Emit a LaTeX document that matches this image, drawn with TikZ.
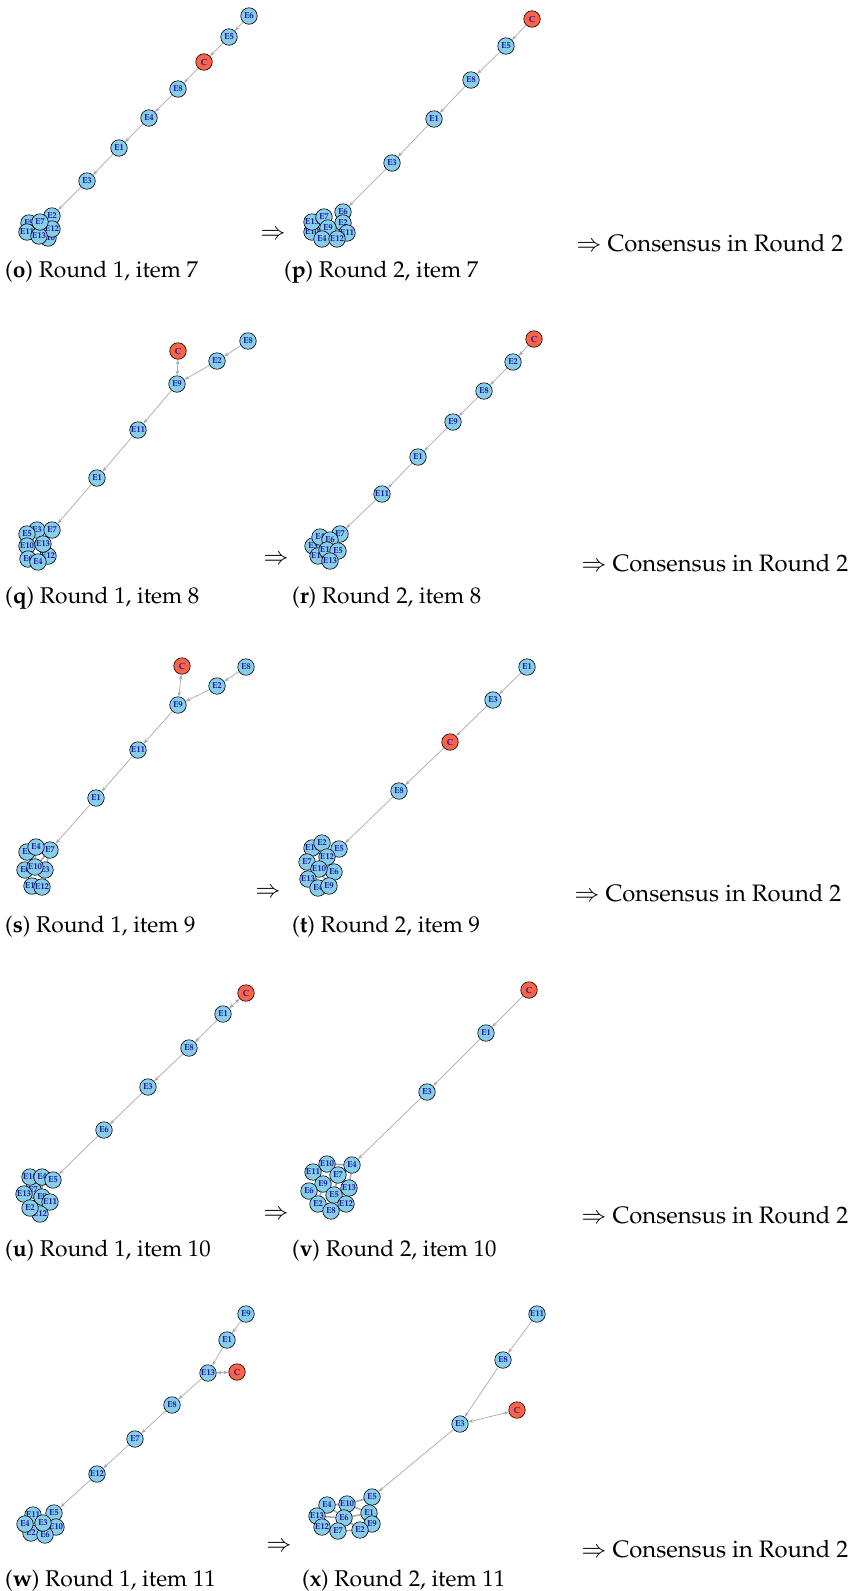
\documentclass[tikz,border=0pt]{standalone}
\usepackage[T1]{fontenc}
\usepackage{mathpazo}
\usepackage{xcolor}
\usepackage{tikz}
\usetikzlibrary{arrows.meta,backgrounds}
\definecolor{entblue}{HTML}{87CEEB}
\definecolor{ctrred}{HTML}{FF6347}
\definecolor{lblblue}{HTML}{1A1AA0}
\definecolor{edgegray}{HTML}{A9A9A9}
\tikzstyle{ent} = [circle, draw=black, line width=0.6pt, fill=entblue, minimum size=16.5pt, inner sep=0pt, text=lblblue, font=\fontsize{8.8}{9}\selectfont\bfseries]
\tikzstyle{ctr} = [ent, fill=ctrred]
\tikzstyle{link} = [draw=edgegray, line width=0.7pt, -{Stealth[length=5pt,width=3.6pt]}]
\tikzstyle{mutual} = [draw=edgegray, line width=0.7pt, {Stealth[length=5pt,width=3.6pt]}-{Stealth[length=5pt,width=3.6pt]}]
\tikzstyle{tie} = [draw=edgegray, line width=1.6pt]
\tikzstyle{capt} = [anchor=west, inner sep=0pt, font=\fontsize{22.8}{27}\selectfont]
\tikzstyle{note} = [inner sep=0pt, font=\fontsize{23.8}{28}\selectfont]

\begin{document}
\begin{tikzpicture}[x=1pt,y=-1pt]
	\useasboundingbox (0,0) rectangle (849,1591);
	% o
	\node[ent] (oE6) at (249,16) {E6};
	\node[ent] (oE5) at (229,37) {E5};
	\node[ctr] (oC) at (204,62) {C};
	\node[ent] (oE8) at (178,89) {E8};
	\node[ent] (oE4) at (149,118) {E4};
	\node[ent] (oE1) at (119,148) {E1};
	\node[ent] (oE3) at (87,181) {E3};
	\node[ent] (oE9) at (29,223) {E9};
	\node[ent] (oE11) at (27,232) {E11};
	\node[ent] (oE10) at (48,238) {E10};
	\node[ent] (oE2) at (52,216) {E2};
	\node[ent] (oE12) at (52,229) {E12};
	\node[ent] (oE13) at (39,236) {E13};
	\node[ent] (oE7) at (40,222) {E7};
	\draw[link] (oE6) -- (oE5);
	\draw[link] (oE5) -- (oC);
	\draw[link] (oC) -- (oE8);
	\draw[link] (oE8) -- (oE4);
	\draw[link] (oE4) -- (oE1);
	\draw[link] (oE1) -- (oE3);
	\draw[link] (oE3) -- (oE2);
	% p
	\node[ctr] (pC) at (532,19) {C};
	\node[ent] (pE5) at (506,46) {E5};
	\node[ent] (pE8) at (471,80) {E8};
	\node[ent] (pE1) at (434,119) {E1};
	\node[ent] (pE3) at (392,163) {E3};
	\node[ent] (pE10) at (312,232) {E10};
	\node[ent] (pE13) at (312,222) {E13};
	\node[ent] (pE7) at (324,217) {E7};
	\node[ent] (pE6) at (343,212) {E6};
	\node[ent] (pE2) at (343,223) {E2};
	\node[ent] (pE11) at (347,233) {E11};
	\node[ent] (pE9) at (328,228) {E9};
	\node[ent] (pE4) at (322,239) {E4};
	\node[ent] (pE12) at (337,239) {E12};
	\draw[link] (pC) -- (pE5);
	\draw[link] (pE5) -- (pE8);
	\draw[link] (pE8) -- (pE1);
	\draw[link] (pE1) -- (pE3);
	\draw[link] (pE3) -- (pE6);
	% q
	\node[ent] (qE8) at (248,341) {E8};
	\node[ctr] (qC) at (178,351) {C};
	\node[ent] (qE2) at (217,361) {E2};
	\node[ent] (qE9) at (177,384) {E9};
	\node[ent] (qE11) at (138,430) {E11};
	\node[ent] (qE1) at (97,478) {E1};
	\node[ent] (qE3) at (37,530) {E3};
	\node[ent] (qE7) at (52,530) {E7};
	\node[ent] (qE5) at (27,534) {E5};
	\node[ent] (qE10) at (27,546) {E10};
	\node[ent] (qE12) at (48,556) {E12};
	\node[ent] (qE13) at (43,544) {E13};
	\node[ent] (qE6) at (28,559) {E6};
	\node[ent] (qE4) at (38,562) {E4};
	\draw[link] (qE8) -- (qE2);
	\draw[link] (qE2) -- (qE9);
	\draw[mutual] (qC) -- (qE9);
	\draw[link] (qE9) -- (qE11);
	\draw[link] (qE11) -- (qE1);
	\draw[link] (qE1) -- (qE7);
	% r
	\node[ctr] (rC) at (534,339) {C};
	\node[ent] (rE2) at (513,362) {E2};
	\node[ent] (rE8) at (484,391) {E8};
	\node[ent] (rE9) at (453,422) {E9};
	\node[ent] (rE1) at (418,457) {E1};
	\node[ent] (rE11) at (382,494) {E11};
	\node[ent] (rE3) at (313,546) {E3};
	\node[ent] (rE10) at (318,556) {E10};
	\node[ent] (rE4) at (320,537) {E4};
	\node[ent] (rE7) at (340,534) {E7};
	\node[ent] (rE6) at (330,540) {E6};
	\node[ent] (rE12) at (327,550) {E12};
	\node[ent] (rE5) at (338,551) {E5};
	\node[ent] (rE13) at (330,561) {E13};
	\draw[link] (rC) -- (rE2);
	\draw[link] (rE2) -- (rE8);
	\draw[link] (rE8) -- (rE9);
	\draw[link] (rE9) -- (rE1);
	\draw[link] (rE1) -- (rE11);
	\draw[link] (rE11) -- (rE7);
	% s
	\node[ctr] (sC) at (182,666) {C};
	\node[ent] (sE8) at (246,667) {E8};
	\node[ent] (sE2) at (217,686) {E2};
	\node[ent] (sE9) at (178,705) {E9};
	\node[ent] (sE11) at (138,750) {E11};
	\node[ent] (sE1) at (96,798) {E1};
	\node[ent] (sE5) at (27,852) {E5};
	\node[ent] (sE7) at (50,850) {E7};
	\node[ent] (sE4) at (36,847) {E4};
	\node[ent] (sE6) at (25,870) {E6};
	\node[ent] (sE3) at (45,870) {E3};
	\node[ent] (sE10) at (35,867) {E10};
	\node[ent] (sE13) at (32,886) {E13};
	\node[ent] (sE12) at (42,887) {E12};
	\draw[link] (sE8) -- (sE2);
	\draw[link] (sE2) -- (sE9);
	\draw[mutual] (sC) -- (sE9);
	\draw[link] (sE9) -- (sE11);
	\draw[link] (sE11) -- (sE1);
	\draw[link] (sE1) -- (sE7);
	% t
	\node[ent] (tE1) at (527,667) {E1};
	\node[ent] (tE3) at (493,700) {E3};
	\node[ctr] (tC) at (450,742) {C};
	\node[ent] (tE8) at (399,791) {E8};
	\node[ent] (tE11) at (312,848) {E11};
	\node[ent] (tE2) at (322,843) {E2};
	\node[ent] (tE5) at (339,849) {E5};
	\node[ent] (tE7) at (307,862) {E7};
	\node[ent] (tE12) at (327,857) {E12};
	\node[ent] (tE6) at (334,872) {E6};
	\node[ent] (tE10) at (319,869) {E10};
	\node[ent] (tE13) at (308,879) {E13};
	\node[ent] (tE4) at (318,888) {E4};
	\node[ent] (tE9) at (329,886) {E9};
	\draw[link] (tE1) -- (tE3);
	\draw[link] (tE3) -- (tC);
	\draw[link] (tC) -- (tE8);
	\draw[link] (tE8) -- (tE5);
	% u
	\node[ctr] (uC) at (246,993) {C};
	\node[ent] (uE1) at (223,1014) {E1};
	\node[ent] (uE8) at (189,1048) {E8};
	\node[ent] (uE3) at (148,1087) {E3};
	\node[ent] (uE6) at (104,1130) {E6};
	\node[ent] (uE7) at (33,1190) {E7};
	\node[ent] (uE10) at (30,1177) {E10};
	\node[ent] (uE4) at (42,1177) {E4};
	\node[ent] (uE5) at (53,1180) {E5};
	\node[ent] (uE13) at (24,1194) {E13};
	\node[ent] (uE9) at (42,1197) {E9};
	\node[ent] (uE11) at (50,1202) {E11};
	\node[ent] (uE12) at (40,1214) {E12};
	\node[ent] (uE2) at (30,1208) {E2};
	\draw[mutual] (uC) -- (uE1);
	\draw[link] (uE1) -- (uE8);
	\draw[link] (uE8) -- (uE3);
	\draw[link] (uE3) -- (uE6);
	\draw[link] (uE6) -- (uE5);
	% v
	\node[ctr] (vC) at (529,990) {C};
	\node[ent] (vE1) at (486,1033) {E1};
	\node[ent] (vE3) at (427,1092) {E3};
	\node[ent] (vE10) at (327,1164) {E10};
	\node[ent] (vE4) at (352,1165) {E4};
	\node[ent] (vE11) at (313,1172) {E11};
	\node[ent] (vE7) at (338,1175) {E7};
	\node[ent] (vE9) at (323,1184) {E9};
	\node[ent] (vE13) at (349,1188) {E13};
	\node[ent] (vE6) at (309,1191) {E6};
	\node[ent] (vE5) at (334,1195) {E5};
	\node[ent] (vE2) at (318,1204) {E2};
	\node[ent] (vE12) at (346,1204) {E12};
	\node[ent] (vE8) at (331,1211) {E8};
	\draw[link] (vC) -- (vE1);
	\draw[link] (vE1) -- (vE3);
	\draw[link] (vE3) -- (vE4);
	% w
	\node[ent] (wE9) at (246,1314) {E9};
	\node[ent] (wE1) at (227,1340) {E1};
	\node[ent] (wE13) at (208,1373) {E13};
	\node[ctr] (wC) at (237,1372) {C};
	\node[ent] (wE8) at (172,1405) {E8};
	\node[ent] (wE7) at (135,1439) {E7};
	\node[ent] (wE12) at (97,1474) {E12};
	\node[ent] (wE11) at (33,1515) {E11};
	\node[ent] (wE5) at (54,1513) {E5};
	\node[ent] (wE10) at (56,1527) {E10};
	\node[ent] (wE2) at (31,1533) {E2};
	\node[ent] (wE4) at (25,1524) {E4};
	\node[ent] (wE6) at (45,1535) {E6};
	\node[ent] (wE3) at (43,1523) {E3};
	\draw[link] (wE9) -- (wE1);
	\draw[link] (wE1) -- (wE13);
	\draw[mutual] (wE13) -- (wC);
	\draw[link] (wE13) -- (wE8);
	\draw[link] (wE8) -- (wE7);
	\draw[link] (wE7) -- (wE12);
	\draw[link] (wE12) -- (wE5);
	% x
	\node[ent] (xE11) at (537,1314) {E11};
	\node[ent] (xE8) at (503,1360) {E8};
	\node[ctr] (xC) at (517,1410) {C};
	\node[ent] (xE3) at (460,1424) {E3};
	\node[ent] (xE5) at (372,1497) {E5};
	\node[ent] (xE4) at (327,1505) {E4};
	\node[ent] (xE10) at (347,1504) {E10};
	\node[ent] (xE13) at (317,1516) {E13};
	\node[ent] (xE6) at (344,1518) {E6};
	\node[ent] (xE1) at (369,1513) {E1};
	\node[ent] (xE9) at (372,1524) {E9};
	\node[ent] (xE12) at (322,1527) {E12};
	\node[ent] (xE7) at (338,1531) {E7};
	\node[ent] (xE2) at (360,1530) {E2};
	\draw[link] (xE11) -- (xE8);
	\draw[link] (xE8) -- (xE3);
	\draw[mutual] (xE3) -- (xC);
	\draw[link] (xE3) -- (xE5);
	% ties inside the clusters
	\begin{scope}[on background layer]
	\draw[tie] (sE7.center) -- (sE3.center) (sE4.center) -- (sE10.center) (sE7.center) -- (sE10.center);
	\draw[tie] (tE2.center) -- (tE12.center) (tE12.center) -- (tE10.center) (tE10.center) -- (tE13.center) (tE10.center) -- (tE9.center) (tE12.center) -- (tE6.center) (tE7.center) -- (tE10.center);
	\draw[tie] (uE5.center) -- (uE7.center) (uE4.center) -- (uE9.center);
	\draw[tie] (vE10.center) -- (vE4.center) (vE10.center) -- (vE7.center) (vE4.center) -- (vE7.center) (vE11.center) -- (vE9.center) (vE7.center) -- (vE13.center) (vE9.center) -- (vE5.center) (vE6.center) -- (vE2.center) (vE5.center) -- (vE12.center) (vE2.center) -- (vE8.center) (vE8.center) -- (vE12.center) (vE4.center) -- (vE13.center) (vE6.center) -- (vE9.center) (vE13.center) -- (vE12.center) (vE7.center) -- (vE5.center) (vE9.center) -- (vE2.center);
	\draw[tie] (xE4.center) -- (xE10.center) (xE10.center) -- (xE5.center) (xE4.center) -- (xE13.center) (xE4.center) -- (xE6.center) (xE10.center) -- (xE6.center) (xE10.center) -- (xE1.center) (xE5.center) -- (xE1.center) (xE1.center) -- (xE9.center) (xE6.center) -- (xE1.center) (xE13.center) -- (xE12.center) (xE12.center) -- (xE7.center) (xE7.center) -- (xE2.center) (xE2.center) -- (xE9.center) (xE6.center) -- (xE7.center) (xE6.center) -- (xE2.center) (xE13.center) -- (xE6.center);
	\end{scope}
	% captions and arrows
	\node[capt] (capo) at (5,272) {(\textbf{o}) Round 1, item 7};
	\node[capt] (capp) at (284,272) {(\textbf{p}) Round 2, item 7};
	\node[capt] (capq) at (5,598) {(\textbf{q}) Round 1, item 8};
	\node[capt] (capr) at (292,598) {(\textbf{r}) Round 2, item 8};
	\node[capt] (caps) at (5,927) {(\textbf{s}) Round 1, item 9};
	\node[capt] (capt) at (292,927) {(\textbf{t}) Round 2, item 9};
	\node[capt] (capu) at (5,1251) {(\textbf{u}) Round 1, item 10};
	\node[capt] (capv) at (292,1251) {(\textbf{v}) Round 2, item 10};
	\node[capt] (capw) at (5,1581) {(\textbf{w}) Round 1, item 11};
	\node[capt] (capx) at (302,1581) {(\textbf{x}) Round 2, item 11};
	\node[note] (imp1) at (273,235) {$\Rightarrow$};
	\node[note] (imp2) at (276,560) {$\Rightarrow$};
	\node[note] (imp3) at (268,893) {$\Rightarrow$};
	\node[note] (imp4) at (276,1215) {$\Rightarrow$};
	\node[note] (imp5) at (279,1547) {$\Rightarrow$};
	\node[note, anchor=west] (cons1) at (576,243) {$\Rightarrow$ Consensus in Round 2};
	\node[note, anchor=west] (cons2) at (581,563) {$\Rightarrow$ Consensus in Round 2};
	\node[note, anchor=west] (cons3) at (574,893) {$\Rightarrow$ Consensus in Round 2};
	\node[note, anchor=west] (cons4) at (581,1215) {$\Rightarrow$ Consensus in Round 2};
	\node[note, anchor=west] (cons5) at (581,1549) {$\Rightarrow$ Consensus in Round 2};
\end{tikzpicture}
\end{document}
